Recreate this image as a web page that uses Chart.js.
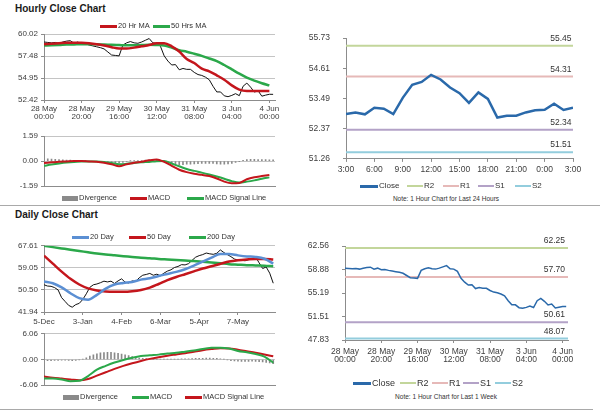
<!DOCTYPE html>
<html>
<head>
<meta charset="utf-8">
<script src="https://cdn.jsdelivr.net/npm/chart.js@4.4.1/dist/chart.umd.min.js"></script>
<style>
  body { margin: 0; width: 600px; height: 413px; position: relative; overflow: hidden; background: #fff;
         font-family: "Liberation Sans", Arial, sans-serif; color: #333; }
  canvas, .title, .note, .rule, .leg { position: absolute; }
  .title { left: 15px; font-size: 10px; font-weight: bold; color: #1a1a1a; line-height: 12px; }
  .note { font-size: 6.5px; line-height: 8px; white-space: nowrap; transform: translateX(-50%); }
  .rule { height: 1px; background: #a9a9a9; }
  .leg { display: flex; align-items: center; white-space: nowrap; line-height: 10px; color: #333; }
  .leg i { display: inline-block; margin-right: 1px; }
</style>
</head>
<body>
<div class="title" style="top:3px">Hourly Close Chart</div>
<div class="title" style="top:209px">Daily Close Chart</div>
<div class="rule" style="left:0;top:205px;width:600px"></div>
<div class="rule" style="left:0;top:409px;width:593px"></div>
<div class="note" style="left:446px;top:195px">Note: 1 Hour Chart for Last 24 Hours</div>
<div class="note" style="left:446px;top:393px">Note: 1 Hour Chart for Last 1 Week</div>
<script>
// ---- hourly data (28 May 00:00 .. 4 Jun 03:00) ----
const hourTicks = [["28 May", "00:00"], ["28 May", "20:00"], ["29 May", "16:00"], ["30 May", "12:00"],
                   ["31 May", "08:00"], ["3 Jun", "04:00"], ["4 Jun", "00:00"]];
// close, one value every 2 hours
const hourlyClose = [59.10, 59.05, 59.00, 59.05, 58.95, 59.10, 59.20, 59.25, 58.95, 59.10,
                     58.85, 58.90, 58.75, 58.65, 58.55, 58.45, 58.30, 57.95, 57.60, 57.55,
                     57.50, 58.75, 59.00, 59.15, 59.00, 58.95, 59.10, 59.30, 59.50, 59.00,
                     58.95, 58.60, 57.50, 56.90, 56.45, 56.50, 55.90, 56.05, 55.95, 55.95,
                     55.60, 55.35, 55.25, 55.05, 54.75, 54.00, 53.35, 53.35, 52.90, 52.80,
                     52.95, 53.15, 52.92, 54.00, 54.37, 53.90, 53.33, 53.48, 52.86, 52.98,
                     53.08, 53.07];
// moving averages and MACD, one value every 4 hours
const ma20H = [58.85, 58.90, 58.95, 59.00, 59.00, 59.00, 58.95, 58.85, 58.70, 58.50, 58.35,
               58.35, 58.45, 58.60, 58.75, 58.95, 58.95, 58.60, 58.00, 57.15, 56.68, 56.03,
               55.72, 55.26, 54.76, 54.10, 53.61, 53.45, 53.45, 53.45, 53.45];
const ma50H = [58.70, 58.72, 58.75, 58.80, 58.82, 58.85, 58.85, 58.83, 58.80, 58.78, 58.75,
               58.72, 58.72, 58.75, 58.78, 58.75, 58.70, 58.45, 58.15, 57.98, 57.75, 57.50,
               57.20, 56.90, 56.45, 55.95, 55.45, 55.00, 54.65, 54.35, 54.10];
const macdH = [-0.12, -0.08, -0.04, -0.02, 0.00, 0.00, -0.02, -0.04, -0.10, -0.20, -0.33,
               -0.20, -0.10, -0.04, 0.05, 0.10, -0.05, -0.30, -0.55, -0.70, -0.80, -0.87,
               -0.95, -1.10, -1.30, -1.40, -1.38, -1.15, -1.02, -0.95, -0.88];
const signalH = [-0.30, -0.22, -0.15, -0.09, -0.05, -0.03, -0.02, -0.03, -0.06, -0.12, -0.20,
                 -0.17, -0.12, -0.08, -0.05, -0.01, 0.00, -0.15, -0.33, -0.50, -0.62, -0.73,
                 -0.85, -0.98, -1.12, -1.27, -1.36, -1.30, -1.22, -1.12, -1.03];
// divergence, one bar every 2 hours
const divH = [0.15, 0.14, 0.13, 0.12, 0.10, 0.08, 0.07, 0.06, 0.05, 0.04, 0.03, 0.02, 0.00,
              -0.01, -0.01, -0.03, -0.04, -0.06, -0.08, -0.10, -0.12, -0.08, -0.03, 0.01,
              0.02, 0.03, 0.04, 0.06, 0.08, 0.10, 0.10, 0.05, -0.05, -0.10, -0.15, -0.20,
              -0.22, -0.22, -0.20, -0.19, -0.18, -0.16, -0.15, -0.15, -0.14, -0.15, -0.18,
              -0.20, -0.20, -0.18, -0.14, -0.08, -0.02, 0.05, 0.10, 0.12, 0.12, 0.10, 0.10,
              0.09, 0.08, 0.08];
const hourlyYTicks = [52.42, 54.95, 57.48, 60.02];
const macdHTicks = [-1.59, 0, 1.59];

// ---- last 24 hours ----
const dayHourTicks = ["3:00", "6:00", "9:00", "12:00", "15:00", "18:00", "21:00", "0:00", "3:00"];
const close24 = [52.92, 52.98, 52.91, 53.15, 53.12, 52.92, 53.52, 54.00, 54.11, 54.37, 54.20,
                 53.90, 53.69, 53.33, 53.72, 53.48, 52.79, 52.86, 52.86, 52.98, 53.06, 53.08,
                 53.30, 53.07, 53.15];
const levelNames = ["R2", "R1", "S1", "S2"];
const levels24 = [55.45, 54.31, 52.34, 51.51];
const levelsWeek = [62.25, 57.70, 50.61, 48.07];
const ticks24 = [51.26, 52.37, 53.49, 54.61, 55.73];
const ticksWeek = [47.83, 51.51, 55.19, 58.88, 62.56];

// ---- daily data (5 Dec .. ) ----
const dayTicks = ["5-Dec", "3-Jan", "4-Feb", "6-Mar", "5-Apr", "7-May"];
// close, one value every 2 trading days
const dailyClose = [52.5, 52.0, 51.9, 51.4, 50.5, 47.5, 46.0, 44.5, 43.8, 44.8, 45.3, 46.8,
                    49.0, 51.5, 52.5, 52.8, 53.3, 53.9, 53.6, 53.9, 53.0, 54.0, 54.8, 53.5,
                    53.2, 54.0, 53.8, 55.2, 56.2, 56.5, 56.9, 56.2, 56.6, 56.0, 57.0, 57.8,
                    58.3, 59.2, 59.6, 60.3, 60.2, 60.7, 62.0, 63.2, 63.8, 64.2, 64.8, 64.5,
                    64.3, 64.7, 66.0, 65.0, 64.2, 63.4, 62.5, 62.0, 62.0, 61.8, 62.2, 62.5,
                    63.3, 61.0, 58.8, 59.4, 57.0, 53.1];
// averages and MACD, one value every 5 trading days
const ma20D = [53.8, 53.1, 51.5, 49.2, 47.3, 46.7, 48.6, 51.0, 52.6, 53.2, 53.6, 54.5, 55.0,
               55.9, 56.7, 57.5, 58.5, 59.9, 61.5, 63.0, 64.4, 64.4, 63.9, 63.5, 63.3, 62.6, 60.7];
const ma50D = [63.8, 60.7, 57.6, 54.8, 52.6, 51.1, 50.3, 49.9, 49.8, 49.8, 50.0, 50.5, 51.4,
               52.8, 54.3, 55.5, 56.6, 57.7, 58.8, 59.7, 60.6, 61.5, 62.0, 62.3, 62.5, 62.5, 62.3];
const ma200D = [67.6, 67.1, 66.6, 66.1, 65.6, 65.1, 64.6, 64.2, 63.9, 63.6, 63.3, 63.0, 62.8,
                62.5, 62.3, 62.1, 61.9, 61.7, 61.4, 61.1, 60.8, 60.5, 60.3, 60.1, 60.0, 59.9, 59.7];
const macdD = [-4.5, -4.5, -4.7, -5.1, -5.0, -3.9, -2.4, -1.5, -0.7, -0.1, 0.4, 0.8, 1.0,
               1.15, 1.4, 1.6, 1.85, 2.1, 2.5, 2.75, 2.8, 2.6, 2.0, 1.7, 1.3, 0.7, -0.76];
const signalD = [-4.0, -4.3, -4.5, -4.7, -4.9, -4.6, -3.8, -3.0, -2.2, -1.5, -0.9, -0.35, 0.15,
                 0.55, 0.9, 1.2, 1.5, 1.85, 2.2, 2.45, 2.65, 2.6, 2.3, 1.95, 1.6, 1.2, 0.76];
// divergence, one bar every 2 trading days
const divD = [-0.3, -0.3, -0.25, -0.2, -0.2, -0.15, -0.15, -0.2, -0.25, -0.2, -0.1, 0.1, 0.4,
              0.8, 1.1, 1.35, 1.55, 1.65, 1.7, 1.7, 1.6, 1.45, 1.3, 1.1, 0.9, 0.7, 0.5, 0.35,
              0.25, 0.2, 0.15, 0.1, 0.1, 0.05, 0.05, 0.05, 0.1, 0.1, 0.1, 0.15, 0.15, 0.15,
              0.2, 0.25, 0.3, 0.3, 0.35, 0.35, 0.3, 0.25, 0.15, 0.05, -0.1, -0.25, -0.35,
              -0.4, -0.45, -0.45, -0.45, -0.4, -0.45, -0.5, -0.6, -0.7, -0.8, -1.0];
const dailyYTicks = [41.94, 50.50, 59.05, 67.61];
const macdDTicks = [-6.06, 0, 6.06];

// ---- styles ----
const RED = "#c4161c", GREEN = "#2ba84a", BLUE = "#5b8fd3", CLOSE_BLUE = "#2a69aa", BAR_GRAY = "#8a8a8a";
const LEVEL_COLORS = ["#c3d69b", "#e6b9b8", "#b3a2c7", "#93cddd"];
const TXT = "#404040", AXIS = "#8c8c8c", GRID = "#c4c4c4";

Chart.defaults.font.family = '"Liberation Sans", Arial, sans-serif';
Chart.defaults.font.size = 8;
Chart.defaults.color = TXT;
Chart.defaults.elements.point.radius = 0;

const pts = (vals, step) => vals.map((y, i) => ({ x: i * step, y }));

function makeCanvas(left, top, w, h) {
  const c = document.createElement("canvas");
  c.width = w; c.height = h;
  Object.assign(c.style, { left: left + "px", top: top + "px", width: w + "px", height: h + "px" });
  document.body.appendChild(c);
  return c;
}

function xAxis(max, every, labels, show, size, pad) {
  return {
    type: "linear", min: 0, max, offset: false,
    afterBuildTicks: s => { s.ticks = labels.map((_, i) => ({ value: i * every })); },
    ticks: { display: show, autoSkip: false, maxRotation: 0, padding: pad, color: TXT,
             font: { size, lineHeight: 1 }, callback: (v, i) => labels[i] },
    grid: { drawOnChartArea: false, drawTicks: show, tickLength: 3, color: AXIS },
    border: { color: AXIS }
  };
}

function yAxis(ticks, gridOn, size, pad) {
  return {
    type: "linear", min: ticks[0], max: ticks[ticks.length - 1],
    afterBuildTicks: s => { s.ticks = ticks.map(v => ({ value: v })); },
    ticks: { autoSkip: false, padding: pad, color: TXT, font: { size }, callback: v => v.toFixed(2) },
    grid: { drawOnChartArea: gridOn, color: GRID, tickColor: AXIS, tickLength: 3 },
    border: { color: AXIS }
  };
}

// value labels written above the support / resistance lines
const levelLabels = {
  id: "levelLabels",
  afterDatasetsDraw(chart, args, opts) {
    if (!opts.values) return;
    const { ctx, chartArea, scales } = chart;
    ctx.save();
    ctx.font = opts.size + 'px "Liberation Sans", Arial, sans-serif';
    ctx.fillStyle = "#333";
    ctx.textAlign = "right";
    ctx.textBaseline = "bottom";
    opts.values.forEach(v => ctx.fillText(v.toFixed(2), chartArea.right + opts.dx, scales.y.getPixelForValue(v) - 3));
    ctx.restore();
  }
};

function panel(box, plot, scales, datasets, levelOpts) {
  const [left, top, w, h] = box;
  const [x1, y1, x2, y2] = plot;
  scales.x.afterFit = s => { s.height = top + h - y2; };
  scales.y.afterFit = s => { s.width = x1 - left; };
  return new Chart(makeCanvas(left, top, w, h), {
    type: "line",
    data: { datasets },
    options: {
      responsive: false, animation: false,
      layout: { padding: { left: 0, top: y1 - top, right: left + w - x2, bottom: 0 } },
      plugins: { legend: { display: false }, tooltip: { enabled: false }, levelLabels: levelOpts || {} },
      scales
    },
    plugins: [levelLabels]
  });
}

const smooth = { cubicInterpolationMode: "monotone" };
const levelSets = (vals, end) => vals.map((v, k) => ({
  data: [{ x: 0, y: v }, { x: end, y: v }], borderColor: LEVEL_COLORS[k], borderWidth: 2
}));

// hourly close
panel([0, 20, 290, 102], [44, 34, 275, 100],
  { x: xAxis(123, 20, hourTicks, true, 8, 2), y: yAxis(hourlyYTicks, true, 8, 3) },
  [
    { data: pts(ma20H, 4), borderColor: RED, borderWidth: 2.5, ...smooth },
    { data: pts(ma50H, 4), borderColor: GREEN, borderWidth: 2.5, ...smooth },
    { data: pts(hourlyClose, 2), borderColor: "#111", borderWidth: 1 }
  ]);

// hourly MACD
panel([0, 128, 290, 66], [44, 136, 275, 188],
  { x: xAxis(123, 20, hourTicks, false, 8, 2), y: yAxis(macdHTicks, true, 8, 3) },
  [
    { type: "bar", data: pts(divH, 2), backgroundColor: BAR_GRAY, barThickness: 1, order: 3 },
    { data: pts(macdH, 4), borderColor: RED, borderWidth: 2, order: 1, ...smooth },
    { data: pts(signalH, 4), borderColor: GREEN, borderWidth: 2, order: 2, ...smooth }
  ]);

// last 24 hours
panel([300, 20, 290, 157], [346, 29, 573, 161],
  { x: xAxis(24, 3, dayHourTicks, true, 8.5, 4), y: yAxis(ticks24, false, 8.5, 13) },
  [
    { data: close24.map((y, i) => ({ x: i, y })), borderColor: CLOSE_BLUE, borderWidth: 2.5 },
    ...levelSets(levels24, 24)
  ],
  { values: levels24, size: 8.5, dx: -1.5 });

// daily close
panel([0, 238, 290, 88], [44, 245, 275, 312],
  { x: xAxis(131, 22, dayTicks, true, 8, 3), y: yAxis(dailyYTicks, true, 8, 3) },
  [
    { data: pts(ma20D, 5), borderColor: BLUE, borderWidth: 2.5, ...smooth },
    { data: pts(ma50D, 5), borderColor: RED, borderWidth: 2.5, ...smooth },
    { data: pts(ma200D, 5), borderColor: GREEN, borderWidth: 2.5, ...smooth },
    { data: pts(dailyClose, 2), borderColor: "#111", borderWidth: 1 }
  ]);

// daily MACD
panel([0, 326, 290, 67], [44, 333, 275, 387],
  { x: xAxis(131, 22, dayTicks, false, 8, 3), y: yAxis(macdDTicks, true, 8, 3) },
  [
    { type: "bar", data: pts(divD, 2), backgroundColor: BAR_GRAY, barThickness: 1, order: 3 },
    { data: pts(macdD, 5), borderColor: GREEN, borderWidth: 2, order: 1, ...smooth },
    { data: pts(signalD, 5), borderColor: RED, borderWidth: 2, order: 2, ...smooth }
  ]);

// last week
panel([300, 228, 290, 138], [345, 237, 568, 340],
  { x: xAxis(123, 20, hourTicks, true, 8.5, 4), y: yAxis(ticksWeek, false, 8.5, 13) },
  [
    { data: pts(hourlyClose, 2), borderColor: CLOSE_BLUE, borderWidth: 1.5 },
    ...levelSets(levelsWeek, 123)
  ],
  { values: levelsWeek, size: 8.5, dx: -3 });

// ---- legends ----
const swatch = { line: [17, 3], thick: [18, 3], thin: [16, 2], bar: [16, 5] };
const legends = [
  { y: 26, size: 7.5, items: [[100, "20 Hr MA", RED, "line"], [153, "50 Hrs MA", GREEN, "line"]] },
  { y: 198, size: 7.5, items: [[62, "Divergence", BAR_GRAY, "bar"], [130, "MACD", RED, "line"],
                               [187, "MACD Signal Line", GREEN, "line"]] },
  { y: 186, size: 8, items: [[360, "Close", CLOSE_BLUE, "thick"],
                             ...levelNames.map((n, k) => [[407, 443, 478, 515][k], n, LEVEL_COLORS[k], "thin"])] },
  { y: 237, size: 7.5, items: [[72, "20 Day", BLUE, "line"], [129, "50 Day", RED, "line"], [189, "200 Day", GREEN, "line"]] },
  { y: 397, size: 7.5, items: [[63, "Divergence", BAR_GRAY, "bar"], [132, "MACD", GREEN, "line"],
                               [185, "MACD Signal Line", RED, "line"]] },
  { y: 383, size: 9, items: [[353, "Close", CLOSE_BLUE, "thick"],
                             ...levelNames.map((n, k) => [[400, 432, 463, 495][k], n, LEVEL_COLORS[k], "thin"])] }
];
legends.forEach(lg => lg.items.forEach(([x, text, color, kind]) => {
  const d = document.createElement("div");
  d.className = "leg";
  d.style.left = x + "px";
  d.style.top = (lg.y - 5) + "px";
  d.style.fontSize = lg.size + "px";
  const [w, h] = swatch[kind];
  d.innerHTML = `<i style="width:${w}px;height:${h}px;background:${color}"></i>`;
  d.appendChild(document.createTextNode(text));
  document.body.appendChild(d);
}));
</script>
</body>
</html>
